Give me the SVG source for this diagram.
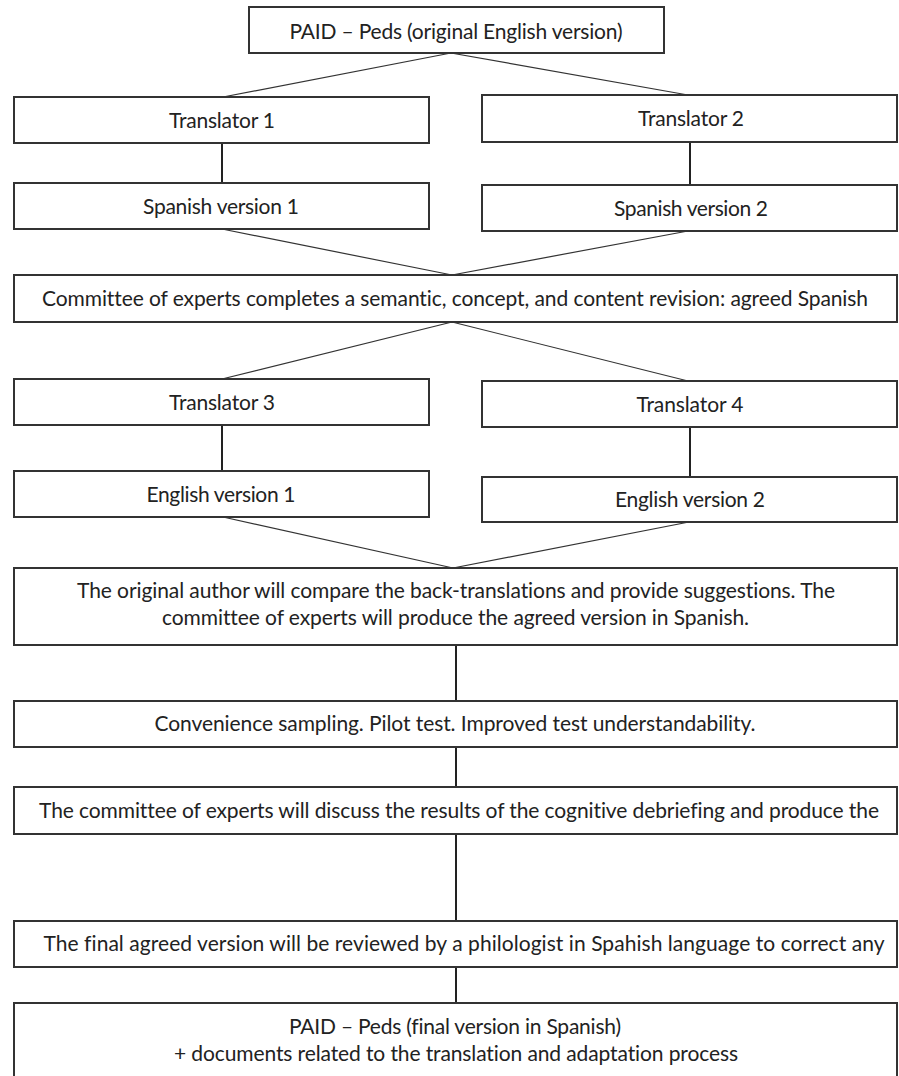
<svg xmlns="http://www.w3.org/2000/svg" width="899" height="1076" viewBox="0 0 899 1076">
<style>
.box{fill:#fff;stroke:#333;stroke-width:2}
.t{font-family:Lato,"Open Sans","Liberation Sans",sans-serif;font-size:21px;fill:#222;text-anchor:middle;font-variant-ligatures:none}
.diag{stroke:#333;stroke-width:1.2;fill:none}
.vert{stroke:#222;stroke-width:2;fill:none}
</style>
<rect width="899" height="1076" fill="#fff"/>
<g id="connectors">
<line class="diag" x1="451" y1="53" x2="223" y2="97"/>
<line class="diag" x1="451" y1="53" x2="688" y2="95"/>
<line class="vert" x1="222" y1="143" x2="222" y2="183"/>
<line class="vert" x1="690" y1="142" x2="690" y2="185"/>
<line class="diag" x1="222" y1="229" x2="452" y2="275"/>
<line class="diag" x1="688" y1="231" x2="452" y2="275"/>
<line class="diag" x1="452" y1="322" x2="222" y2="379"/>
<line class="diag" x1="452" y1="322" x2="688" y2="381"/>
<line class="vert" x1="222" y1="425" x2="222" y2="471"/>
<line class="vert" x1="690" y1="427" x2="690" y2="477"/>
<line class="diag" x1="223" y1="517" x2="453" y2="568"/>
<line class="diag" x1="689" y1="522" x2="453" y2="568"/>
<line class="vert" x1="456" y1="645" x2="456" y2="701"/>
<line class="vert" x1="456" y1="747" x2="456" y2="787"/>
<line class="vert" x1="456" y1="834" x2="456" y2="921"/>
<line class="vert" x1="456" y1="967" x2="456" y2="1003"/>
</g>
<g id="n-top"><rect class="box" x="249" y="7" width="415" height="46"/><text class="t" x="456" y="38.5" textLength="333" lengthAdjust="spacing">PAID – Peds (original English version)</text></g>
<g id="n-t1"><rect class="box" x="14" y="97" width="415" height="46"/><text class="t" x="222" y="127.5" textLength="106" lengthAdjust="spacing">Translator 1</text></g>
<g id="n-t2"><rect class="box" x="482" y="95" width="415" height="47"/><text class="t" x="691" y="125.5" textLength="106" lengthAdjust="spacing">Translator 2</text></g>
<g id="n-s1"><rect class="box" x="14" y="183" width="415" height="46"/><text class="t" x="221" y="213.5" textLength="156" lengthAdjust="spacing">Spanish version 1</text></g>
<g id="n-s2"><rect class="box" x="482" y="185" width="415" height="46"/><text class="t" x="691" y="215.5" textLength="154" lengthAdjust="spacing">Spanish version 2</text></g>
<g id="n-committee"><rect class="box" x="14" y="275" width="883" height="47"/><text class="t" x="455" y="305.5" textLength="826" lengthAdjust="spacing">Committee of experts completes a semantic, concept, and content revision: agreed Spanish</text></g>
<g id="n-t3"><rect class="box" x="14" y="379" width="415" height="46"/><text class="t" x="222" y="409.5" textLength="106" lengthAdjust="spacing">Translator 3</text></g>
<g id="n-t4"><rect class="box" x="482" y="381" width="415" height="46"/><text class="t" x="690" y="411.5" textLength="107" lengthAdjust="spacing">Translator 4</text></g>
<g id="n-e1"><rect class="box" x="14" y="471" width="415" height="46"/><text class="t" x="221" y="501.5" textLength="149" lengthAdjust="spacing">English version 1</text></g>
<g id="n-e2"><rect class="box" x="482" y="477" width="415" height="45"/><text class="t" x="690" y="506.5" textLength="150" lengthAdjust="spacing">English version 2</text></g>
<g id="n-author"><rect class="box" x="14" y="568" width="883" height="77"/>
<text class="t" x="456" y="597.5" textLength="758" lengthAdjust="spacing">The original author will compare the back-translations and provide suggestions. The</text>
<text class="t" x="455.5" y="624.5" textLength="587" lengthAdjust="spacing">committee of experts will produce the agreed version in Spanish.</text></g>
<g id="n-pilot"><rect class="box" x="14" y="701" width="883" height="46"/><text class="t" x="455" y="730.5" textLength="601" lengthAdjust="spacing">Convenience sampling. Pilot test. Improved test understandability.</text></g>
<g id="n-debrief"><rect class="box" x="14" y="787" width="883" height="47"/><text class="t" x="459" y="818" textLength="840" lengthAdjust="spacing">The committee of experts will discuss the results of the cognitive debriefing and produce the</text></g>
<g id="n-philologist"><rect class="box" x="14" y="921" width="883" height="46"/><text class="t" x="464" y="951" textLength="841" lengthAdjust="spacing">The final agreed version will be reviewed by a philologist in Spahish language to correct any</text></g>
<g id="n-final"><rect class="box" x="14" y="1003" width="883" height="90"/>
<text class="t" x="455" y="1033.5" textLength="332" lengthAdjust="spacing">PAID – Peds (final version in Spanish)</text>
<text class="t" x="456" y="1060.5" textLength="564" lengthAdjust="spacing">+ documents related to the translation and adaptation process</text></g>
</svg>
